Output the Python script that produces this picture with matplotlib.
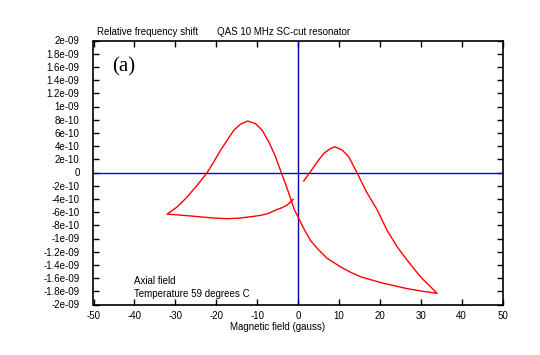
import numpy as np
import matplotlib
matplotlib.use("Agg")
import matplotlib.pyplot as plt

# Magnetic field (gauss) and relative frequency shift (units of 1e-9), along the measured path
field = [1.42, 2.9, 4.7, 6.3, 7.9, 9.0, 10.8, 12.4, 14.4, 16.7, 19.4, 21.8, 24.3, 26.7, 29.95, 34.0,
         30.5, 26.7, 21.0, 18.1, 15.3, 12.8, 10.4, 7.1, 4.7, 3.06, 1.4, 0.0, -0.86, -1.83, -3.06, -4.1,
         -5.5, -7.1, -8.75, -10.4, -12.3, -14.1, -15.7, -17.3, -18.9, -20.6, -22.2,
         -24.6, -27.1, -29.5, -32.0,
         -27.9, -24.3, -20.6, -17.3, -14.1, -11.5, -9.2, -7.2, -5.5, -3.8, -2.6, -1.2]
shift = [-0.127, 0.0, 0.16, 0.29, 0.36, 0.39, 0.34, 0.24, 0.0, -0.29, -0.57, -0.88, -1.13, -1.33, -1.58, -1.83,
         -1.80, -1.76, -1.68, -1.63, -1.58, -1.51, -1.43, -1.30, -1.15, -1.03, -0.85, -0.67, -0.57, -0.39, -0.17, 0.0,
         0.24, 0.46, 0.64, 0.74, 0.78, 0.73, 0.64, 0.49, 0.34, 0.16, 0.0,
         -0.19, -0.37, -0.52, -0.63,
         -0.65, -0.67, -0.69, -0.70, -0.69, -0.67, -0.65, -0.62, -0.57, -0.53, -0.49, -0.41]

xticks = [-50, -40, -30, -20, -10, 0, 10, 20, 30, 40, 50]
yticks = [2.0, 1.8, 1.6, 1.4, 1.2, 1.0, 0.8, 0.6, 0.4, 0.2, 0.0,
          -0.2, -0.4, -0.6, -0.8, -1.0, -1.2, -1.4, -1.6, -1.8, -2.0]
ytick_labels = ["2e-09", "1.8e-09", "1.6e-09", "1.4e-09", "1.2e-09", "1e-09", "8e-10", "6e-10",
                "4e-10", "2e-10", "0", "-2e-10", "-4e-10", "-6e-10", "-8e-10", "-1e-09",
                "-1.2e-09", "-1.4e-09", "-1.6e-09", "-1.8e-09", "-2e-09"]

plt.rcParams['font.family'] = ['Liberation Sans', 'DejaVu Sans']
FS = 7
fig = plt.figure(figsize=(5.4, 3.55), dpi=100)
ax = fig.add_axes([93.5/540, 1 - 304.5/355, (502.5 - 93.5)/540, (304.5 - 40.5)/355])

ax.axhline(0, color='#0000ff', lw=1.0, zorder=2)
ax.axvline(0, color='#0000b0', lw=1.0, zorder=2)
ax.plot(field, np.array(shift), color='#ff0000', lw=1.0, zorder=3)

ax.set_xlim(-50, 50)
ax.set_ylim(-2.0, 2.0)
ax.set_xticks(xticks)
ax.set_xticklabels([str(v) for v in xticks], fontsize=FS)
ax.set_yticks(yticks)
ax.set_yticklabels(ytick_labels, fontsize=FS)
ax.tick_params(direction='in', length=4, width=1, top=True, right=True, pad=5)
ax.tick_params(axis='y', pad=10)
for s in ax.spines.values():
    s.set_linewidth(1.2)

ax.set_xlabel("Magnetic field (gauss)", fontsize=FS, labelpad=1)
ax.xaxis.set_label_coords((278 - 93.5)/409, -0.065)

fig.text(97/540, 1 - 32/355, "Relative frequency shift", fontsize=FS, va='center', ha='left')
fig.text(217/540, 1 - 32/355, "QAS 10 MHz SC-cut resonator", fontsize=FS, va='center', ha='left')
ax.text(0.045, 0.9, "(a)", transform=ax.transAxes, fontsize=15, family='Liberation Serif',
        va='center', ha='left')
ax.text(134/540, 1 - 281/355, "Axial field", transform=fig.transFigure, fontsize=FS, va='center')
ax.text(134/540, 1 - 294/355, "Temperature 59 degrees C", transform=fig.transFigure, fontsize=FS, va='center')

fig.savefig("out.png", dpi=100)
